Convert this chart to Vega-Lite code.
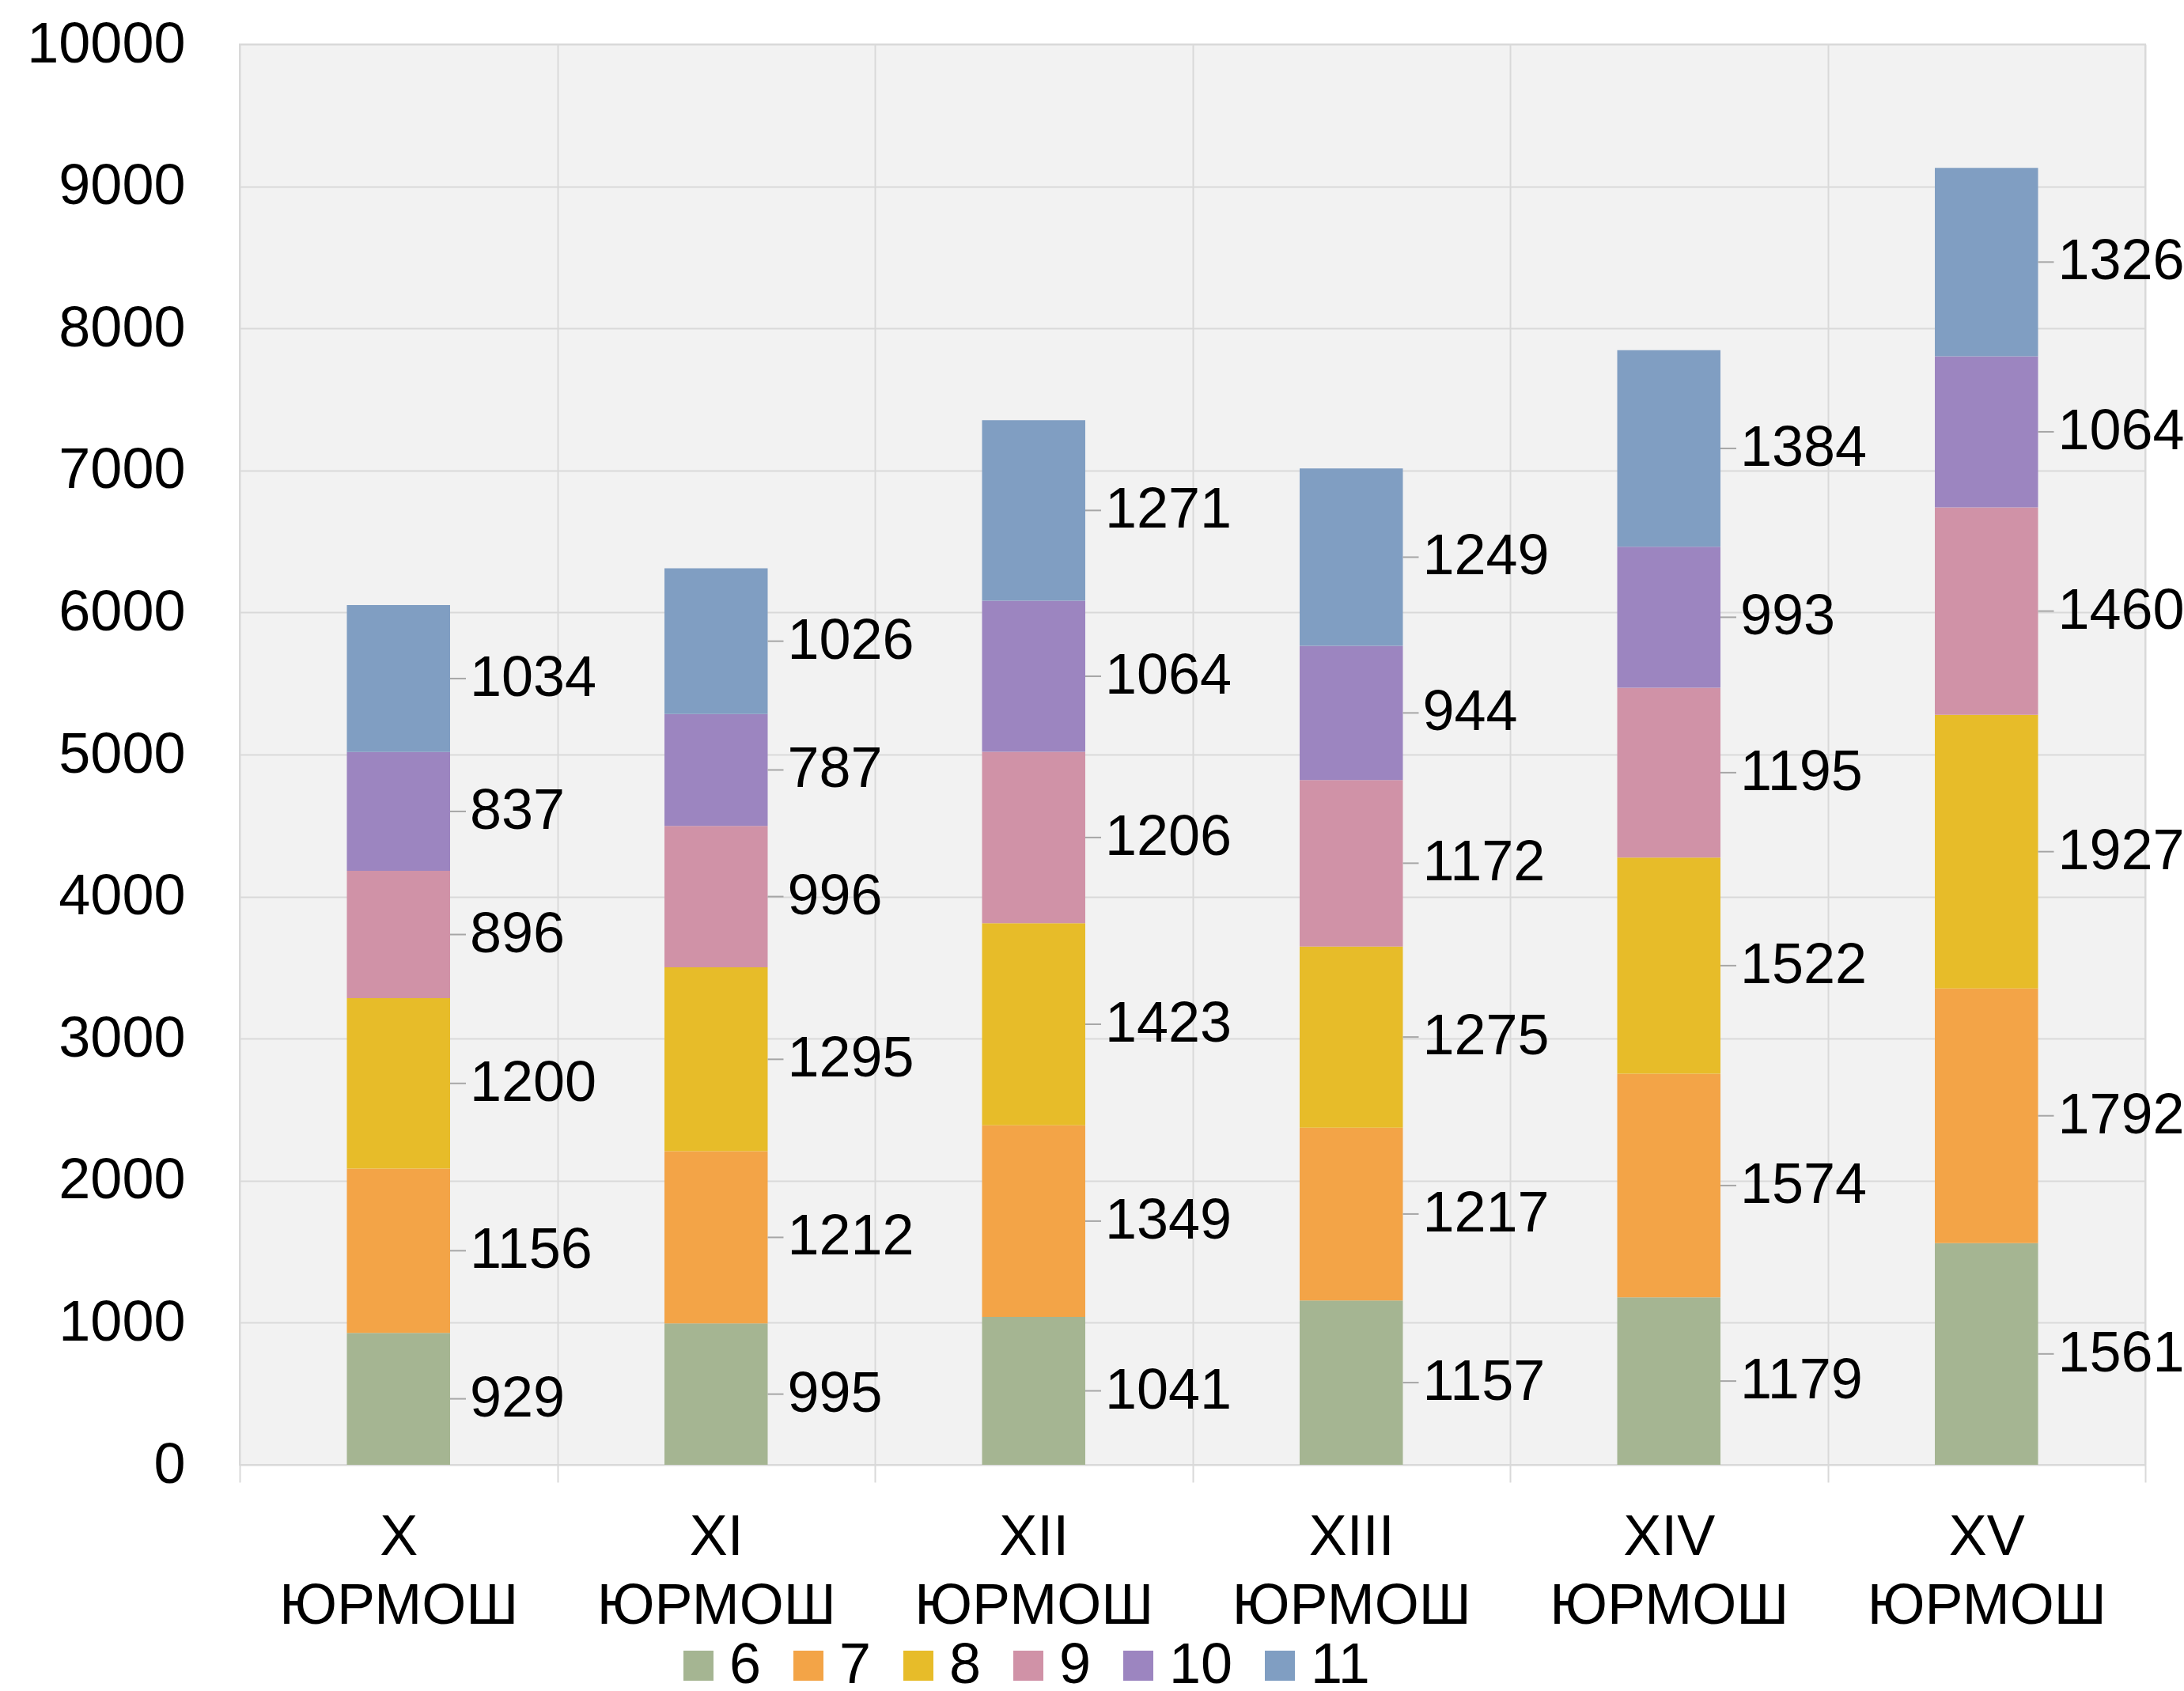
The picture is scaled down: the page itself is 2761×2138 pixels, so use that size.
{
  "$schema": "https://vega.github.io/schema/vega-lite/v6.json",
  "autosize": {"type": "none"},
  "width": 2409,
  "height": 1796,
  "padding": {"left": 303, "top": 56, "right": 49, "bottom": 286},
  "background": "white",
  "config": {
    "font": "Liberation Sans",
    "view": {"stroke": "#d9d9d9", "strokeWidth": 2, "fill": "#f2f2f2"}
  },
  "data": {
    "values": [
      {"school": "X ЮРМОШ", "grade": 6, "value": 929},
      {"school": "X ЮРМОШ", "grade": 7, "value": 1156},
      {"school": "X ЮРМОШ", "grade": 8, "value": 1200},
      {"school": "X ЮРМОШ", "grade": 9, "value": 896},
      {"school": "X ЮРМОШ", "grade": 10, "value": 837},
      {"school": "X ЮРМОШ", "grade": 11, "value": 1034},
      {"school": "XI ЮРМОШ", "grade": 6, "value": 995},
      {"school": "XI ЮРМОШ", "grade": 7, "value": 1212},
      {"school": "XI ЮРМОШ", "grade": 8, "value": 1295},
      {"school": "XI ЮРМОШ", "grade": 9, "value": 996},
      {"school": "XI ЮРМОШ", "grade": 10, "value": 787},
      {"school": "XI ЮРМОШ", "grade": 11, "value": 1026},
      {"school": "XII ЮРМОШ", "grade": 6, "value": 1041},
      {"school": "XII ЮРМОШ", "grade": 7, "value": 1349},
      {"school": "XII ЮРМОШ", "grade": 8, "value": 1423},
      {"school": "XII ЮРМОШ", "grade": 9, "value": 1206},
      {"school": "XII ЮРМОШ", "grade": 10, "value": 1064},
      {"school": "XII ЮРМОШ", "grade": 11, "value": 1271},
      {"school": "XIII ЮРМОШ", "grade": 6, "value": 1157},
      {"school": "XIII ЮРМОШ", "grade": 7, "value": 1217},
      {"school": "XIII ЮРМОШ", "grade": 8, "value": 1275},
      {"school": "XIII ЮРМОШ", "grade": 9, "value": 1172},
      {"school": "XIII ЮРМОШ", "grade": 10, "value": 944},
      {"school": "XIII ЮРМОШ", "grade": 11, "value": 1249},
      {"school": "XIV ЮРМОШ", "grade": 6, "value": 1179},
      {"school": "XIV ЮРМОШ", "grade": 7, "value": 1574},
      {"school": "XIV ЮРМОШ", "grade": 8, "value": 1522},
      {"school": "XIV ЮРМОШ", "grade": 9, "value": 1195},
      {"school": "XIV ЮРМОШ", "grade": 10, "value": 993},
      {"school": "XIV ЮРМОШ", "grade": 11, "value": 1384},
      {"school": "XV ЮРМОШ", "grade": 6, "value": 1561},
      {"school": "XV ЮРМОШ", "grade": 7, "value": 1792},
      {"school": "XV ЮРМОШ", "grade": 8, "value": 1927},
      {"school": "XV ЮРМОШ", "grade": 9, "value": 1460},
      {"school": "XV ЮРМОШ", "grade": 10, "value": 1064},
      {"school": "XV ЮРМОШ", "grade": 11, "value": 1326}
    ]
  },
  "transform": [
    {"stack": "value", "groupby": ["school"], "sort": [{"field": "grade", "order": "ascending"}], "as": ["v0", "v1"]},
    {"calculate": "(datum.v0 + datum.v1) / 2", "as": "mid"}
  ],
  "encoding": {
    "x": {
      "field": "school",
      "type": "nominal",
      "sort": ["X ЮРМОШ", "XI ЮРМОШ", "XII ЮРМОШ", "XIII ЮРМОШ", "XIV ЮРМОШ", "XV ЮРМОШ"],
      "scale": {"paddingInner": 0, "paddingOuter": 0},
      "axis": {
        "title": null,
        "labelAngle": 0,
        "labelFontSize": 72,
        "labelColor": "#000000",
        "labelLimit": 0,
        "labelExpr": "split(datum.label, ' ')",
        "labelLineHeight": 87,
        "labelBaseline": "top",
        "labelPadding": 34,
        "tickBand": "extent",
        "tickSize": 22,
        "tickColor": "#d9d9d9",
        "tickWidth": 2,
        "grid": true,
        "gridColor": "#d9d9d9",
        "gridWidth": 2,
        "domain": false
      }
    }
  },
  "layer": [
    {
      "mark": {"type": "bar", "width": {"band": 0.325}},
      "encoding": {
        "y": {
          "field": "v0",
          "type": "quantitative",
          "scale": {"domain": [0, 10000], "nice": false},
          "axis": {
            "title": null,
            "values": [0, 1000, 2000, 3000, 4000, 5000, 6000, 7000, 8000, 9000, 10000],
            "format": "d",
            "labelLimit": 0,
            "labelFontSize": 72,
            "labelColor": "#000000",
            "labelPadding": 69,
            "ticks": false,
            "tickSize": 0,
            "domain": false,
            "grid": true,
            "gridColor": "#d9d9d9",
            "gridWidth": 2
          }
        },
        "y2": {"field": "v1"},
        "color": {
          "field": "grade",
          "type": "nominal",
          "scale": {
            "domain": [6, 7, 8, 9, 10, 11],
            "range": ["#a5b592", "#f3a447", "#e7bc29", "#d092a7", "#9c85c0", "#809ec2"]
          },
          "legend": {
            "title": null,
            "orient": "none",
            "direction": "horizontal",
            "legendX": 544,
            "legendY": 2014,
            "padding": 0,
            "symbolType": "square",
            "symbolSize": 1444,
            "symbolStrokeWidth": 0,
            "labelFontSize": 72,
            "labelColor": "#000000",
            "labelLimit": 0,
            "labelOffset": 3,
            "columnPadding": 23
          }
        }
      }
    },
    {
      "mark": {"type": "rule", "color": "#a6a6a6", "strokeWidth": 2, "x2Offset": 20},
      "encoding": {
        "x": {"field": "school", "type": "nominal", "bandPosition": 0.6625, "sort": ["X ЮРМОШ", "XI ЮРМОШ", "XII ЮРМОШ", "XIII ЮРМОШ", "XIV ЮРМОШ", "XV ЮРМОШ"]},
        "x2": {"field": "school", "bandPosition": 0.6625},
        "y": {"field": "mid", "type": "quantitative"}
      }
    },
    {
      "mark": {"type": "text", "align": "left", "baseline": "middle", "dx": 25, "fontSize": 72, "color": "#000000"},
      "encoding": {
        "x": {"field": "school", "type": "nominal", "bandPosition": 0.6625, "sort": ["X ЮРМОШ", "XI ЮРМОШ", "XII ЮРМОШ", "XIII ЮРМОШ", "XIV ЮРМОШ", "XV ЮРМОШ"]},
        "y": {"field": "mid", "type": "quantitative"},
        "text": {"field": "value", "type": "quantitative", "format": "d"}
      }
    }
  ]
}
